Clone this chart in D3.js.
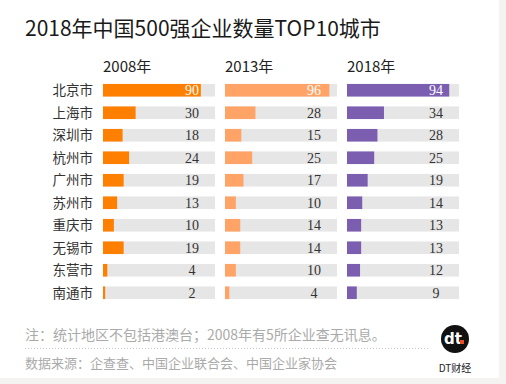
<!DOCTYPE html>
<html>
<head>
<meta charset="utf-8">
<script src="https://cdn.jsdelivr.net/npm/d3@7"></script>
<style>
  body { margin: 0; background: #fff; }
  svg { display: block; font-family: "Noto Sans CJK SC", "Noto Sans", sans-serif; }
</style>
</head>
<body>
<div id="chart"></div>
<script>
// données
var cities = ['北京市', '上海市', '深圳市', '杭州市', '广州市', '苏州市', '重庆市', '无锡市', '东营市', '南通市'];
var years = ['2008年', '2013年', '2018年'];
var v2008 = [90, 30, 18, 24, 19, 13, 10, 19, 4, 2];
var v2013 = [96, 28, 15, 25, 17, 10, 14, 14, 10, 4];
var v2018 = [94, 34, 28, 25, 19, 14, 13, 13, 12, 9];
var series = [v2008, v2013, v2018];
var colors = ['#ff7f00', '#ffa466', '#7b5eaf'];

var W = 506, H = 384;
var svg = d3.select('#chart').append('svg')
  .attr('width', W).attr('height', H);

// fond gris à droite et en bas
svg.append('rect').attr('x', 499).attr('y', 0).attr('width', W - 499).attr('height', H).attr('fill', '#f4f3f1');
svg.append('rect').attr('x', 0).attr('y', 378).attr('width', W).attr('height', H - 378).attr('fill', '#f4f3f1');

svg.append('text')
  .attr('x', 25).attr('y', 36)
  .attr('font-size', 21).attr('fill', '#1a1a1a')
  .text('2018年中国500强企业数量TOP10城市');

var y = d3.scaleBand().domain(cities).range([79, 304]).paddingInner(0.44).paddingOuter(0.22);
var x = d3.scaleLinear().domain([0, 103]).range([0, 112]);
var panelX = [103, 225, 347];

// noms des villes
svg.selectAll('text.city').data(cities).join('text')
  .attr('class', 'city')
  .attr('x', 93)
  .attr('y', d => y(d) + y.bandwidth() / 2)
  .attr('dy', '0.36em')
  .attr('text-anchor', 'end')
  .attr('font-size', 13.5)
  .attr('fill', '#333')
  .text(d => d);

series.forEach(function (vals, k) {
  var g = svg.append('g').attr('transform', `translate(${panelX[k]},0)`);
  g.append('text')
    .attr('x', 0).attr('y', 72)
    .attr('font-size', 15).attr('fill', '#222')
    .text(years[k]);
  g.selectAll('rect.bg').data(cities).join('rect')
    .attr('class', 'bg')
    .attr('x', 0).attr('y', d => y(d))
    .attr('width', x(103)).attr('height', y.bandwidth())
    .attr('fill', '#e6e6e6');
  g.selectAll('rect.bar').data(vals).join('rect')
    .attr('class', 'bar')
    .attr('x', 0).attr('y', (d, i) => y(cities[i]))
    .attr('width', d => x(d)).attr('height', y.bandwidth())
    .attr('fill', colors[k]);
  g.selectAll('text.val').data(vals).join('text')
    .attr('class', 'val')
    .attr('x', x(103) - 23)
    .attr('y', (d, i) => y(cities[i]) + y.bandwidth() / 2)
    .attr('dy', '0.35em')
    .attr('text-anchor', 'middle')
    .attr('font-family', '"Liberation Serif", serif')
    .attr('font-size', 14)
    .attr('fill', (d, i) => i === 0 ? '#fff' : '#333')
    .text(d => d);
});

// notes
svg.append('text')
  .attr('x', 25).attr('y', 340)
  .attr('font-size', 14).attr('fill', '#aaa')
  .text('注：统计地区不包括港澳台；2008年有5所企业查无讯息。');
svg.append('line')
  .attr('x1', 25).attr('x2', 430).attr('y1', 348.5).attr('y2', 348.5)
  .style('stroke', '#ccc').style('stroke-width', 1).style('stroke-dasharray', '1,2');
svg.append('text')
  .attr('x', 25).attr('y', 368)
  .attr('font-size', 13).attr('fill', '#aaa')
  .text('数据来源：企查查、中国企业联合会、中国企业家协会');

// logo
var logo = svg.append('g').attr('transform', 'translate(455,339)');
logo.append('circle').attr('r', 14).attr('fill', '#111');
logo.append('text')
  .attr('x', -2).attr('y', 5)
  .attr('text-anchor', 'middle')
  .attr('font-family', '"DejaVu Sans", sans-serif')
  .attr('font-weight', 'bold')
  .attr('font-size', 15).attr('fill', '#fff')
  .text('dt');
logo.append('rect').attr('x', 5).attr('y', 1).attr('width', 4).attr('height', 4).attr('fill', '#f04e23');
svg.append('text')
  .attr('x', 455).attr('y', 372)
  .attr('text-anchor', 'middle')
  .attr('font-size', 10).attr('fill', '#222')
  .text('DT财经');
</script>
</body>
</html>
